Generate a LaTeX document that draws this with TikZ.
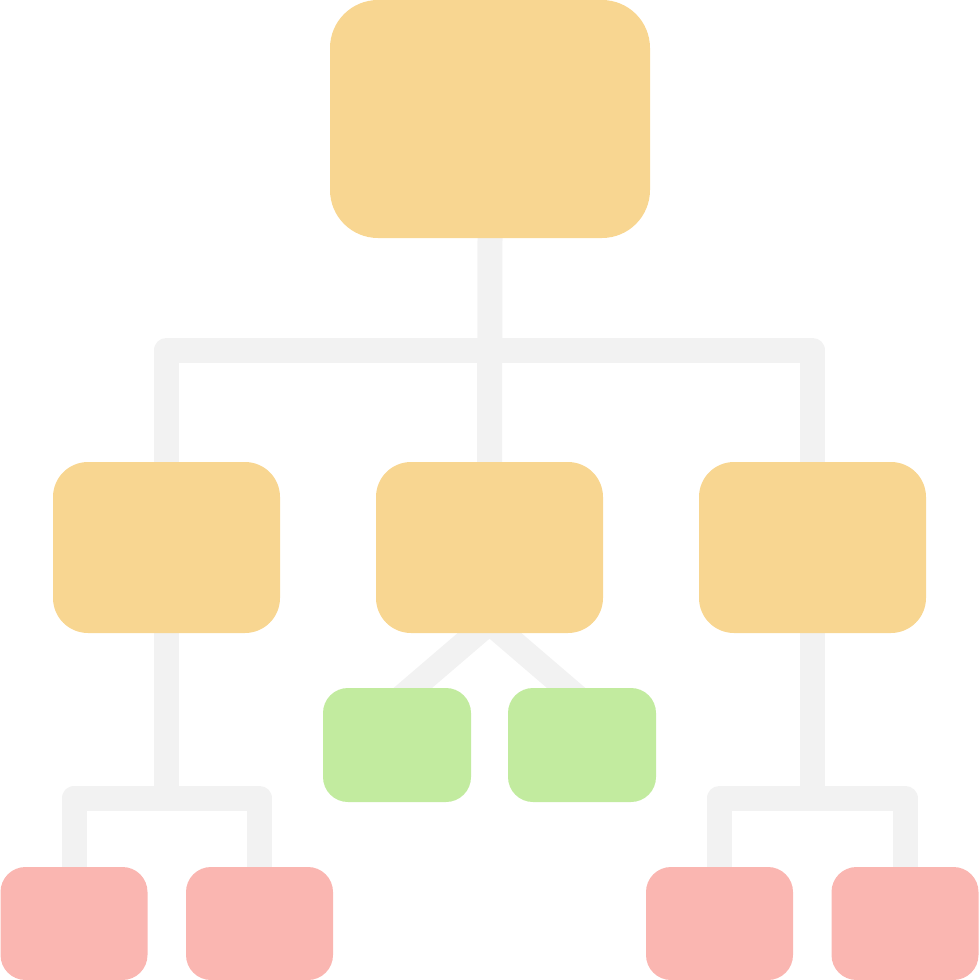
\documentclass[tikz,border=0pt]{standalone}
\usetikzlibrary{backgrounds,calc}
\definecolor{boxorange}{HTML}{F8D691}
\definecolor{boxgreen}{HTML}{C2EB9F}
\definecolor{boxpink}{HTML}{FAB6B1}
\definecolor{linkgray}{HTML}{F2F2F2}
\tikzset{
  card/.style={rectangle, inner sep=0pt, draw=none},
  topcard/.style={card, fill=boxorange, minimum width=320pt, minimum height=238pt, rounded corners=48pt},
  midcard/.style={card, fill=boxorange, minimum width=227pt, minimum height=171pt, rounded corners=35pt},
  leafgreen/.style={card, fill=boxgreen, minimum width=148pt, minimum height=114pt, rounded corners=25pt},
  leafpink/.style={card, fill=boxpink, minimum width=147pt, minimum height=113pt, rounded corners=25pt},
  link/.style={draw=linkgray, line width=25pt, line cap=butt, line join=round}
}
\begin{document}
\begin{tikzpicture}[x=1pt,y=-1pt]
\useasboundingbox (0,0) rectangle (979,980);
% nodes
\node[topcard] (top) at (490,119) {};
\node[midcard] (m1) at (166.5,547.5) {};
\node[midcard] (m2) at (489.5,547.5) {};
\node[midcard] (m3) at (812.5,547.5) {};
\node[leafgreen] (g1) at (397,745) {};
\node[leafgreen] (g2) at (582,745) {};
\node[leafpink] (b1) at (74,923.5) {};
\node[leafpink] (b2) at (259.5,923.5) {};
\node[leafpink] (b3) at (719.5,923.5) {};
\node[leafpink] (b4) at (905,923.5) {};
% bar coordinates
\coordinate (barTop) at (489.5,350);
\coordinate (barLeft) at (166.5,798);
\coordinate (barRight) at (812.5,798);
\coordinate (apex) at ($(m2.south)+(0,-11)$);
\coordinate (gl) at ($(g1.north)+(16,0)$);
\coordinate (gr) at ($(g2.north)+(-16,0)$);
\begin{pgfonlayer}{background}
  \draw[link] (top.south) -- (m2.north);
  \draw[link] (m1.north) -- (m1.north |- barTop) -- (m3.north |- barTop) -- (m3.north);
  \draw[link] (m1.south) -- (barLeft);
  \draw[link] (b1.north) -- (b1.north |- barLeft) -- (b2.north |- barLeft) -- (b2.north);
  \draw[link] (m3.south) -- (barRight);
  \draw[link] (b3.north) -- (b3.north |- barRight) -- (b4.north |- barRight) -- (b4.north);
  \draw[link, line join=miter] ($(apex)!1.4!(gl)$) -- (apex) -- ($(apex)!1.4!(gr)$);
\end{pgfonlayer}
\end{tikzpicture}
\end{document}
